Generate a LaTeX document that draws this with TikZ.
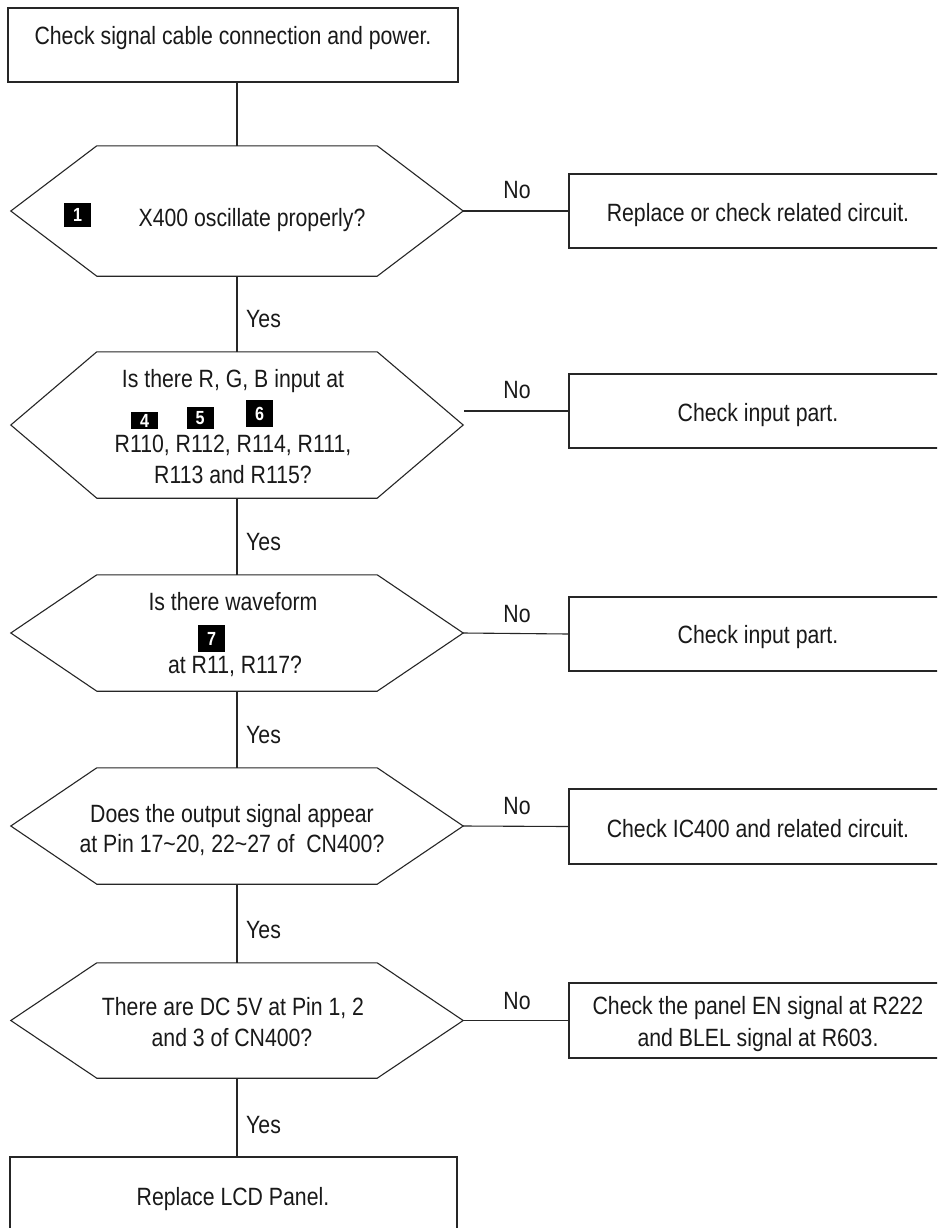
\documentclass[tikz,border=0pt]{standalone}
\usepackage{fontspec}
\setmainfont{Liberation Sans}[FakeStretch=0.85]
\tikzset{
  ln/.style={draw=black!85, line width=1.1pt},
  shapebox/.style={rectangle, inner sep=0pt, minimum width=#1},
  txt/.style={font=\fontsize{25}{30}\selectfont, text=black!90, inner sep=0pt, anchor=base},
  lbl/.style={font=\fontsize{25}{30}\selectfont, text=black!90, inner sep=0pt, anchor=base},
  badge/.style={fill=black, text=white, inner sep=0pt, font=\bfseries\fontsize{19}{19}\selectfont, minimum width=27pt}
}
\newcommand\hexoutline[1]{%
  \draw[ln] (#1.west) -- ([xshift=86pt]#1.north west) -- ([xshift=-86pt]#1.north east)
    -- (#1.east) -- ([xshift=-86pt]#1.south east) -- ([xshift=86pt]#1.south west) -- cycle;}
\begin{document}
\begin{tikzpicture}[x=1pt,y=-1pt]
\useasboundingbox (0,0) rectangle (937,1228);
\clip (0,0) rectangle (937,1228);
\fill[white] (0,0) rectangle (937,1228);

% main column boxes
\node[shapebox=450pt, minimum height=74pt, ln] (top) at (233,45) {};
\node[txt] (ttop) at (233,45) {Check signal cable connection and power.};

\node[shapebox=452pt, minimum height=130pt] (h1) at (237,211) {};
\node[shapebox=452pt, minimum height=146pt] (h2) at (237,425) {};
\node[shapebox=452pt, minimum height=116pt] (h3) at (237,633) {};
\node[shapebox=452pt, minimum height=116pt] (h4) at (237,826) {};
\node[shapebox=452pt, minimum height=115pt] (h5) at (237,1020.5) {};
\hexoutline{h1}\hexoutline{h2}\hexoutline{h3}\hexoutline{h4}\hexoutline{h5}

\node[shapebox=447pt, minimum height=80pt, ln] (bot) at (233.5,1197) {};
\node[txt] (tbot) at (233,1205) {Replace LCD Panel.};

% right boxes
\node[shapebox=378pt, minimum height=74pt, ln] (r1) at (758,211) {};
\node[shapebox=378pt, minimum height=74pt, ln] (r2) at (758,411) {};
\node[shapebox=378pt, minimum height=74pt, ln] (r3) at (758,634) {};
\node[shapebox=378pt, minimum height=75pt, ln] (r4) at (758,826.5) {};
\node[shapebox=378pt, minimum height=75pt, ln] (r5) at (758,1020.5) {};

\node[txt] (tr1) at (758,221) {Replace or check related circuit.};
\node[txt] (tr2) at (758,421) {Check input part.};
\node[txt] (tr3) at (758,643) {Check input part.};
\node[txt] (tr4) at (758,837) {Check IC400 and related circuit.};
\node[txt] (tr5a) at (758,1014) {Check the panel EN signal at R222};
\node[txt] (tr5b) at (758,1046) {and BLEL signal at R603.};

% hexagon texts
\node[txt] (th1) at (252,226) {X400 oscillate properly?};
\node[txt] (th2a) at (233,387) {Is there R, G, B input at};
\node[txt] (th2b) at (233,452) {R110, R112, R114, R111,};
\node[txt] (th2c) at (233,483) {R113 and R115?};
\node[txt] (th3a) at (233,610) {Is there waveform};
\node[txt] (th3b) at (235,673) {at R11, R117?};
\node[txt] (th4a) at (232,822) {Does the output signal appear};
\node[txt] (th4b) at (232,852) {at Pin 17\char`\~20, 22\char`\~27 of \ CN400?};
\node[txt] (th5a) at (233,1015) {There are DC 5V at Pin 1, 2};
\node[txt] (th5b) at (232,1046) {and 3 of CN400?};

% badges
\node[badge, minimum height=24pt] (b1) at (77.5,215) {1};
\node[badge, minimum height=17pt] (b4) at (144.5,420.5) {4};
\node[badge, minimum height=22pt] (b5) at (200,418) {5};
\node[badge, minimum height=27pt] (b6) at (259.5,413.5) {6};
\node[badge, minimum height=27pt] (b7) at (211.5,638.5) {7};

% vertical connectors
\draw[ln] (h1.north |- top.south) -- (h1.north);
\draw[ln] (h1.south) -- (h2.north);
\draw[ln] (h2.south) -- (h3.north);
\draw[ln] (h3.south) -- (h4.north);
\draw[ln] (h4.south) -- (h5.north);
\draw[ln] (h5.south) -- (h5.south |- bot.north);

% horizontal connectors
\draw[ln] (h1.east) -- (r1.west);
\draw[ln] ([xshift=1pt]h2.east |- r2.west) -- (r2.west);
\draw[ln] (h3.east) -- (r3.west);
\draw[ln] (h4.east) -- (r4.west);
\draw[ln] (h5.east) -- (r5.west);

% labels
\node[lbl] (n1) at (517,198) {No};
\node[lbl] (n2) at (517,398) {No};
\node[lbl] (n3) at (517,622) {No};
\node[lbl] (n4) at (517,814) {No};
\node[lbl] (n5) at (517,1009) {No};
\node[lbl, anchor=base west] (y1) at (246,327) {Yes};
\node[lbl, anchor=base west] (y2) at (246,550) {Yes};
\node[lbl, anchor=base west] (y3) at (246,743) {Yes};
\node[lbl, anchor=base west] (y4) at (246,938) {Yes};
\node[lbl, anchor=base west] (y5) at (246,1133) {Yes};
\end{tikzpicture}
\end{document}
